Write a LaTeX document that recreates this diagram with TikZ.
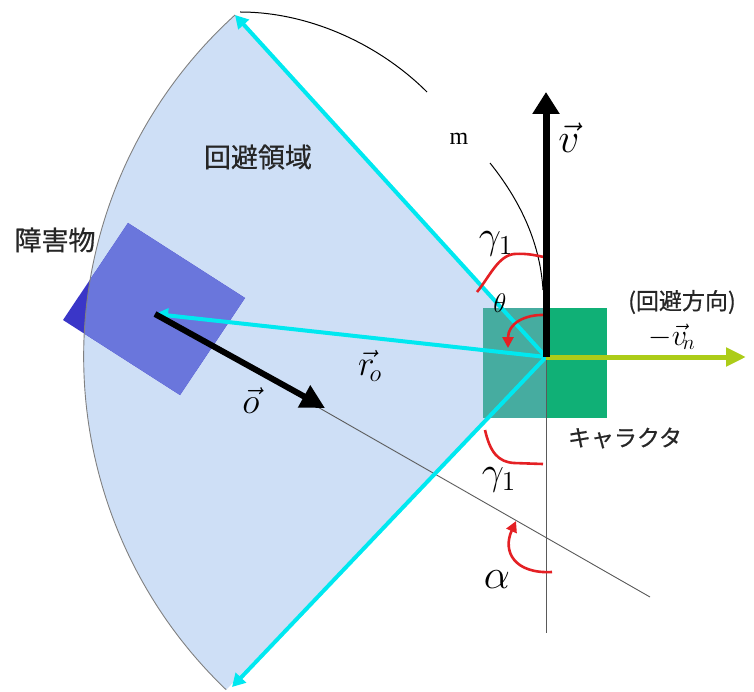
\documentclass[tikz,border=0pt]{standalone}
\usepackage{graphicx}
\usepackage{fontspec}
\newfontfamily\jp{Noto Sans CJK JP}[FakeBold=0.6]
\newfontfamily\tms{Liberation Serif}
\usetikzlibrary{arrows.meta}
\newcommand{\mlab}[2]{\scalebox{#1}{\fontsize{20}{20}\selectfont$#2$}}
\definecolor{fanblue}{RGB}{206,223,246}
\definecolor{obsdark}{RGB}{58,54,200}
\definecolor{obslight}{RGB}{106,118,220}
\definecolor{chargreen}{RGB}{16,176,118}
\definecolor{charteal}{RGB}{70,172,160}
\definecolor{cyanline}{RGB}{0,232,240}
\definecolor{ygreen}{RGB}{172,204,24}
\definecolor{redarc}{RGB}{228,32,36}
\definecolor{thinline}{RGB}{90,90,90}
\tikzset{
  cyanarrow/.style={draw=cyanline, line width=4pt, -{Triangle[width=14pt,length=13pt]}},
  thinl/.style={draw=thinline, line width=0.9pt},
  redcurve/.style={draw=redarc, line width=2.6pt},
  redarrow/.style={draw=redarc, line width=2.6pt, -{Triangle[width=11pt,length=11pt]}},
  jplabel/.style={font=\jp\fontsize{27}{27}\selectfont, text=black!85, inner sep=0pt},
  mathlabel/.style={inner sep=0pt}
}
\begin{document}
\begin{tikzpicture}[x=1pt,y=-1pt]
\useasboundingbox (0,0) rectangle (754,692);
\coordinate (O) at (546,357);
\coordinate (top) at (235,15);
\coordinate (bot) at (232,687);
\coordinate (obs) at (155,314);
\coordinate (otip) at (325,408);
\coordinate (vtip) at (546,92);
\coordinate (ntip) at (746,357);
\coordinate (vbot) at (546,633);
\coordinate (lend) at (650,597);
% fan
\fill[fanblue] (O) -- (top) arc[start angle=227.8, end angle=133.7, radius=461] -- cycle;
% obstacle
\fill[obsdark] (128,223) -- (245,298) -- (180,395) -- (63,320) -- cycle;
\begin{scope}
  \clip (O) -- (top) arc[start angle=227.8, end angle=133.7, radius=461] -- cycle;
  \fill[obslight] (128,223) -- (245,298) -- (180,395) -- (63,320) -- cycle;
\end{scope}
\draw[draw=gray, line width=0.9pt] (top) arc[start angle=227.8, end angle=133.7, radius=461];
% character
\fill[chargreen] (483,308) rectangle (607,418);
\fill[charteal] (483,308) rectangle (546,418);
% thin lines
\draw[thinl] (O) -- (vbot);
\draw[thinl] (obs) -- (lend);
% m arc
\draw[black, line width=1pt] (240,12) .. controls (310,12) and (380,45) .. (427,92);
\draw[black, line width=1pt] (490,163) .. controls (518,198) and (540,240) .. (543,290);
% cyan arrows
\draw[cyanarrow] (O) -- (top);
\draw[cyanarrow] (O) -- (bot);
\draw[cyanarrow] (O) -- (obs);
% o arrow
\draw[black, line width=6pt, -{Triangle[width=24pt,length=24pt]}] (obs) -- (otip);
% red arcs
\draw[redcurve] (477,292) .. controls (490,276) and (498,256) .. (514,254) .. controls (528,253) and (538,256) .. (544,257);
\draw[redarrow] (546,315) .. controls (524,314) and (508,324) .. (508,348);
\draw[redcurve] (485,430) .. controls (490,452) and (498,462) .. (514,463) -- (543,464);
\draw[redarrow] (552,572) .. controls (515,574) and (502,552) .. (516,521);
% v arrow and -v_n arrow
\draw[ygreen, line width=5pt, -{Triangle[width=18pt,length=20pt]}] (O) -- (ntip);
\draw[black, line width=7pt, -{Triangle[width=26pt,length=22pt]}] (O) -- (vtip);
% labels
\node[mathlabel] (lv) at (569,138) {\mlab{2}{\vec{v}}};
\node[inner sep=0pt] (lm) at (459,139) {\tms\fontsize{24}{24}\selectfont m};
\node[jplabel] (lzone) at (258,157) {回避領域};
\node[jplabel] (lobs) at (55,240) {障害物};
\node[mathlabel] (lg1) at (496,244) {\mlab{1.9}{\gamma_1}};
\node[mathlabel] (lth) at (500,303) {\mlab{1.3}{\theta}};
\node[jplabel, font=\jp\fontsize{23}{23}\selectfont] (ldir) at (682,302) {(回避方向)};
\node[mathlabel] (lvn) at (672,337) {\mlab{1.45}{-\vec{v}_{\!n}}};
\node[mathlabel] (lr) at (370,366) {\mlab{1.7}{\vec{r}_{\!o}}};
\node[mathlabel] (lo) at (251,401) {\mlab{1.75}{\vec{o}}};
\node[jplabel, font=\jp\fontsize{23}{23}\selectfont] (lchar) at (625,438) {キャラクタ};
\node[mathlabel] (lg2) at (499,480) {\mlab{1.9}{\gamma_1}};
\node[mathlabel] (la) at (497,580) {\mlab{2}{\alpha}};
\end{tikzpicture}
\end{document}
